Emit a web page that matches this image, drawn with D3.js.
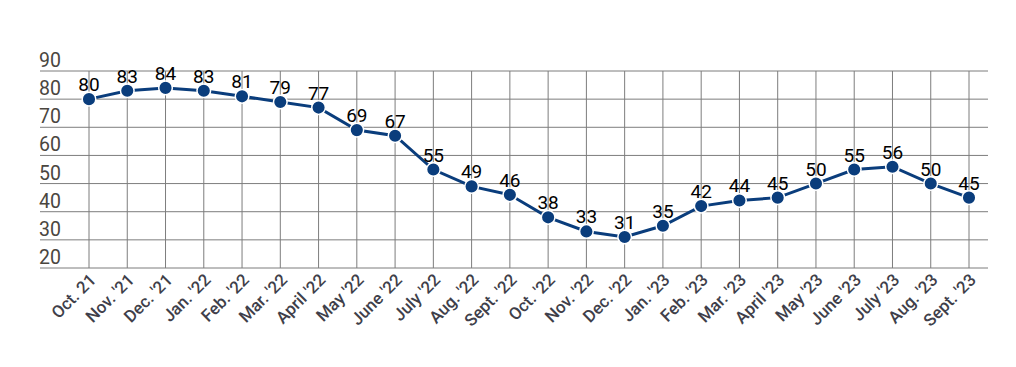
<!DOCTYPE html>
<html><head><meta charset="utf-8">
<script src="https://cdn.jsdelivr.net/npm/d3@7"></script>
<style>body{margin:0;background:#fff;}svg{display:block;}</style>
</head><body>
<svg id="chart" width="1016" height="367"></svg>
<script>
const categories = ["Oct. 21","Nov. '21","Dec. '21","Jan. '22","Feb. '22","Mar. '22","April '22","May '22","June '22","July '22","Aug. '22","Sept. '22","Oct. '22","Nov. '22","Dec. '22","Jan. '23","Feb. '23","Mar. '23","April '23","May '23","June '23","July '23","Aug. '23","Sept. '23"];
const values = [80,83,84,83,81,79,77,69,67,55,49,46,38,33,31,35,42,44,45,50,55,56,50,45];
const yTicks = [20,30,40,50,60,70,80,90];

const svg = d3.select("#chart");
const x = d3.scalePoint().domain(categories).range([89, 969]);
const y = d3.scaleLinear().domain([20, 90]).range([268, 71]);
const gridLeft = 40, gridRight = 988;

// horizontal gridlines
svg.append("g").selectAll("line").data(yTicks).join("line")
  .attr("x1", gridLeft).attr("x2", gridRight)
  .attr("y1", d => y(d)).attr("y2", d => y(d))
  .attr("stroke", "#7d7d7d").attr("stroke-width", 1);
// vertical gridlines
svg.append("g").selectAll("line").data(categories).join("line")
  .attr("x1", d => x(d)).attr("x2", d => x(d))
  .attr("y1", y(90)).attr("y2", y(20))
  .attr("stroke", "#7d7d7d").attr("stroke-width", 1);

// y labels
svg.append("g").selectAll("text").data(yTicks).join("text")
  .attr("x", gridLeft - 1).attr("y", d => y(d) - 4)
  .attr("font-family", "Roboto").attr("font-size", 19.5)
  .attr("fill", "#4a463f").text(d => d);

// x labels
svg.append("g").selectAll("text").data(categories).join("text")
  .attr("transform", d => `translate(${x(d) + 8},${281}) rotate(-45)`)
  .attr("text-anchor", "end")
  .attr("font-family", "Roboto").attr("font-weight", 500).attr("font-size", 17)
  .attr("fill", "#3f3f4a").text(d => d);

// line
const line = d3.line().x((d, i) => x(categories[i])).y(d => y(d));
svg.append("path").datum(values).attr("d", line)
  .attr("fill", "none").attr("stroke", "#0a3d7c").attr("stroke-width", 3);

svg.append("g").selectAll("circle").data(values).join("circle")
  .attr("cx", (d, i) => x(categories[i])).attr("cy", d => y(d)).attr("r", 6.8)
  .attr("fill", "#0a3d7c").attr("stroke", "#fff").attr("stroke-width", 1.5);

svg.append("g").selectAll("text").data(values).join("text")
  .attr("x", (d, i) => x(categories[i])).attr("y", d => y(d) - 8)
  .attr("text-anchor", "middle")
  .attr("font-family", "Roboto").attr("font-size", 19)
  .attr("fill", "#000").text(d => d);
</script>
</body></html>
